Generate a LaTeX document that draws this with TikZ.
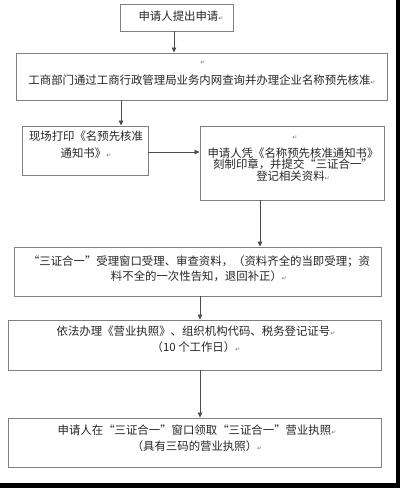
\documentclass[tikz,border=0pt]{standalone}
\usepackage{fontspec}
\newfontfamily\cjk{Noto Sans CJK SC}
\newfontfamily\cjkq[RawFeature=+fwid]{Noto Sans CJK SC}
\newfontfamily\dvs{DejaVu Sans}
\newcommand\ret{{\dvs\fontsize{6}{6}\selectfont\textcolor{black!55}{↵}}}
\newcommand\lqq{{\cjkq “}}
\newcommand\rqq{{\cjkq ”}}
\usetikzlibrary{arrows.meta}
\begin{document}
\begin{tikzpicture}[x=1pt,y=-1pt,
  box/.style={draw=black!50, line width=0.9pt, inner sep=0pt},
  txt/.style={align=center, inner sep=0pt, text=black!85},
  arr/.style={draw=black!70, line width=0.8pt, -{Triangle[length=5pt,width=4.5pt]}}]
\useasboundingbox (0,0) rectangle (400,488);
\fill[white] (0,0) rectangle (400,488);
\fill[black] (396,0) rectangle (400,488);
\fill[black] (0,483) rectangle (400,488);
% boxes
\node[box, minimum width=113pt, minimum height=27pt] (b1) at (176.5,17.5) {};
\node[box, minimum width=371pt, minimum height=47pt] (b2) at (201.5,76.5) {};
\node[box, minimum width=126pt, minimum height=49pt] (b3) at (85,150.5) {};
\node[box, minimum width=184pt, minimum height=74pt] (b4) at (292,163) {};
\node[box, minimum width=367pt, minimum height=49pt] (b5) at (197.5,271.5) {};
\node[box, minimum width=373pt, minimum height=50pt] (b6) at (194.5,345) {};
\node[box, minimum width=373pt, minimum height=49pt] (b7) at (194.5,442.5) {};
% texts
\node[txt, font=\cjk\fontsize{11.4}{15}\selectfont] (t1) at (181,16) {申请人提出申请\ret};
\node[txt] (r2) at (203,63) {\ret};
\node[txt, font=\cjk\fontsize{11.4}{15}\selectfont] (t2) at (202,80) {工商部门通过工商行政管理局业务内网查询并办理企业名称预先核准\ret};
\node[txt, font=\cjk\fontsize{11.4}{16.7}\selectfont] (t3) at (86,145) {现场打印《名预先核准\\通知书》\ret};
\node[txt] (r4) at (295,138) {\ret};
\node[txt, font=\cjk\fontsize{11.4}{11.5}\selectfont] (t4) at (293,164.2) {申请人凭《名称预先核准通知书》\\刻制印章，并提交\lqq 三证合一\rqq\\登记相关资料\ret};
\node[txt, font=\cjk\fontsize{11.4}{15}\selectfont] (t5) at (199,268.5) {\lqq 三证合一\rqq 受理窗口受理、审查资料，（资料齐全的当即受理；资\\料不全的一次性告知，退回补正）\ret};
\node[txt, font=\cjk\fontsize{11.4}{15.3}\selectfont] (t6) at (196,339.3) {依法办理《营业执照》、组织机构代码、税务登记证号\ret\\（10 个工作日）\ret};
\node[txt, font=\cjk\fontsize{11.4}{16.7}\selectfont] (t7) at (197,438.3) {申请人在\lqq 三证合一\rqq 窗口领取\lqq 三证合一\rqq 营业执照\ret\\（具有三码的营业执照）\ret};
% connectors
\draw[arr] ([xshift=-2.5pt]b1.south) -- ([xshift=-2.5pt]b1.south |- b2.north);
\draw[arr] ([xshift=36pt]b3.north |- b2.south) -- ([xshift=36pt]b3.north);
\draw[arr] ([yshift=-1.5pt]b3.east) -- ([yshift=-1.5pt]b3.east -| b4.west);
\draw[arr] ([xshift=-32pt]b4.south) -- ([xshift=-32pt]b4.south |- b5.north);
\draw[arr] ([xshift=2.5pt]b5.south) -- ([xshift=2.5pt]b5.south |- b6.north);
\draw[arr] ([xshift=5.5pt]b6.south) -- ([xshift=5.5pt]b6.south |- b7.north);
\end{tikzpicture}
\end{document}
